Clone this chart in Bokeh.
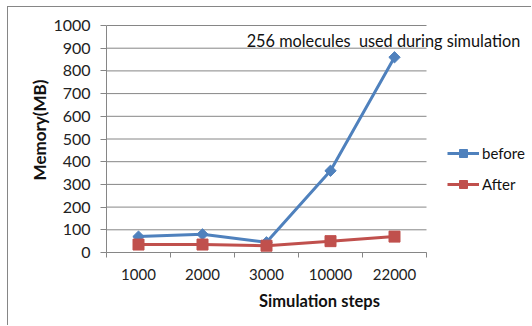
from bokeh.plotting import figure
from bokeh.models import FixedTicker, Legend, LegendItem, Label, ColumnDataSource
from bokeh.embed import file_html
from bokeh.resources import INLINE
import math

steps = ["1000", "2000", "3000", "10000", "22000"]
before = [70, 80, 45, 360, 860]
after = [35, 35, 30, 50, 70]
y_ticks = list(range(0, 1001, 100))
note = "256 molecules \u00a0used during simulation"

FONT = "Lato"
GREY = "#868686"
BLUE = "#4F81BD"
RED = "#C0504D"

W, H = 524, 319          # figure size inside the outer border
LEFT, BOTTOM = 98, 74    # space for axes
PLOT_W, PLOT_H = 320, 227  # width/height of the drawn chart area

n = len(steps)
xpos = [i + 0.5 for i in range(n)]
y_max = y_ticks[-1]

# frame extends to the right/top edge so that the note and legend are not clipped
frame_w = W - LEFT
frame_h = H - BOTTOM
x_end = n * frame_w / PLOT_W
y_end = y_max * frame_h / PLOT_H

p = figure(width=W, height=H, output_backend="svg", toolbar_location=None,
           x_range=(0, x_end), y_range=(0, y_end),
           min_border_left=LEFT, min_border_right=0, min_border_top=0,
           min_border_bottom=BOTTOM)
p.outline_line_color = None
p.background_fill_color = "white"
p.border_fill_color = "white"
p.styles = {"border-left": f"1px solid {GREY}", "border-top": f"1px solid {GREY}",
            "margin-left": "7px", "margin-top": "6px"}

# horizontal grid lines limited to the chart area
p.segment(x0=[0] * len(y_ticks), x1=[n] * len(y_ticks), y0=y_ticks, y1=y_ticks,
          line_color=GREY, line_width=1)

src = ColumnDataSource(dict(x=xpos, before=before, after=after))

l1 = p.line("x", "before", source=src, line_color=BLUE, line_width=3)
m1 = p.scatter("x", "before", source=src, marker="square", angle=math.pi / 4,
               size=8, fill_color=BLUE, line_color=BLUE)
l2 = p.line("x", "after", source=src, line_color=RED, line_width=3)
m2 = p.scatter("x", "after", source=src, marker="square", size=11,
               fill_color=RED, line_color=RED)

# x axis: labels at category centres, ticks at boundaries
p.xaxis.bounds = (0, n)
p.xaxis.ticker = FixedTicker(ticks=xpos, minor_ticks=list(range(n + 1)))
p.xaxis.major_label_overrides = {x: s for x, s in zip(xpos, steps)}
p.xaxis.major_tick_line_color = None
p.xaxis.minor_tick_line_color = GREY
p.xaxis.minor_tick_in = 0
p.xaxis.minor_tick_out = 5
p.xaxis.axis_line_color = GREY
p.xaxis.major_label_text_font = FONT
p.xaxis.major_label_text_font_size = "15px"
p.xaxis.major_label_text_color = "#222222"
p.xaxis.major_label_standoff = 10
p.xaxis.axis_label = "Simulation steps"
p.xaxis.axis_label_text_font = FONT
p.xaxis.axis_label_text_font_size = "16.5px"
p.xaxis.axis_label_text_font_style = "bold"
p.xaxis.axis_label_text_color = "#111111"
p.xaxis.axis_label_standoff = 8

p.yaxis.bounds = (0, y_max)
p.yaxis.ticker = FixedTicker(ticks=y_ticks)
p.yaxis.minor_tick_line_color = None
p.yaxis.major_tick_line_color = GREY
p.yaxis.major_tick_in = 0
p.yaxis.major_tick_out = 6
p.yaxis.axis_line_color = GREY
p.yaxis.major_label_text_font = FONT
p.yaxis.major_label_text_font_size = "16px"
p.yaxis.major_label_text_color = "#222222"
p.yaxis.major_label_standoff = 10
p.yaxis.axis_label = "Memory(MB)"
p.yaxis.axis_label_text_font = FONT
p.yaxis.axis_label_text_font_size = "17px"
p.yaxis.axis_label_text_font_style = "bold"
p.yaxis.axis_label_text_color = "#111111"
p.yaxis.axis_label_standoff = 0

p.xgrid.grid_line_color = None
p.ygrid.grid_line_color = None

p.add_layout(Label(x=2.19, y=934, text=note, text_font=FONT,
                   text_font_size="16.3px", text_baseline="middle",
                   text_align="left", text_color="#111111"))

legend = Legend(items=[LegendItem(label="before", renderers=[l1, m1]),
                       LegendItem(label="After", renderers=[l2, m2])],
                location=(341, 58), padding=0, margin=0, spacing=11,
                glyph_width=32, glyph_height=20, label_standoff=3,
                border_line_color=None, background_fill_alpha=0,
                label_text_font=FONT, label_text_font_size="15px",
                label_text_color="#111111")
p.add_layout(legend)

open("out.html", "w").write(file_html(p, INLINE))
